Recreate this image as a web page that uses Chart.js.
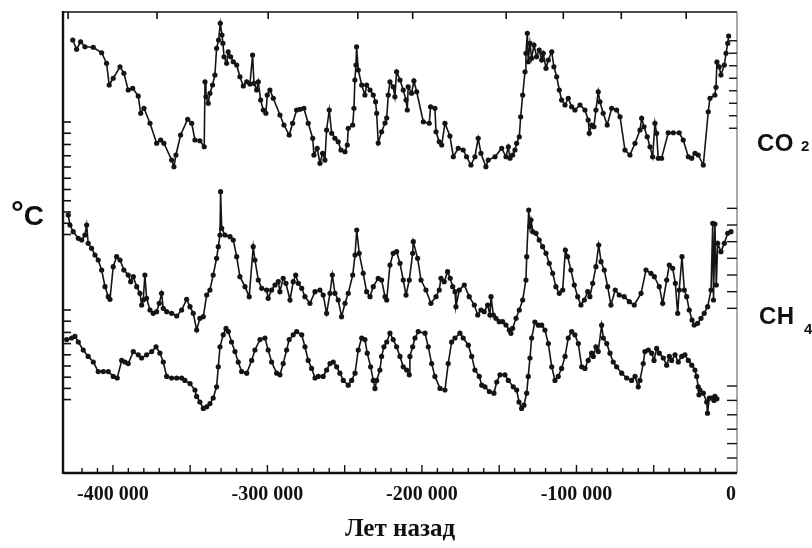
<!DOCTYPE html>
<html>
<head>
<meta charset="utf-8">
<script src="https://cdn.jsdelivr.net/npm/chart.js@4.4.1/dist/chart.umd.min.js"></script>
<style>
  html, body { margin: 0; padding: 0; background: #fff; }
  #wrap { position: relative; width: 812px; height: 548px; }
  #chart { position: absolute; left: 0; top: 0; }
  .lbl { position: absolute; line-height: 1; font-family: "Liberation Sans", Arial, sans-serif; font-weight: bold; color: #111; white-space: nowrap; }
</style>
</head>
<body>
<div id="wrap">
  <canvas id="chart" width="812" height="548"></canvas>
  <div class="lbl" style="left:11px;top:198px;font-size:28px"><span style="font-size:32px;position:relative;top:-2px">°</span>C</div>
  <div class="lbl" style="left:757px;top:131px;font-size:24px;letter-spacing:0.5px">CO</div>
  <div class="lbl" style="left:801px;top:138px;font-size:15px">2</div>
  <div class="lbl" style="left:759px;top:304px;font-size:24px;letter-spacing:0.5px">CH</div>
  <div class="lbl" style="left:804px;top:321px;font-size:15px">4</div>
</div>
<script>
/* ---------- DATA (years before present) ---------- */
const co2Years = [-426000,-423500,-420900,-418100,-412700,-407300,-404100,-402400,-399800,-395400,
  -392900,-390100,-387200,-383600,-382000,-379900,-376000,-371700,-369100,-367000,
  -362000,-360500,-359200,-356200,-351600,-349000,-346900,-343700,-340900,-340400,
  -339800,-338300,-337200,-335500,-334000,-332900,-331600,-330500,-329400,-328800,
  -328100,-326400,-325400,-323800,-322100,-319900,-317800,-315600,-313400,-311300,
  -309600,-308700,-307000,-305900,-304400,-302700,-301000,-300100,-298400,-296200,
  -291900,-289300,-285900,-283700,-281100,-278900,-276400,-273600,-270700,-269900,
  -267800,-266000,-264300,-262800,-261700,-260000,-258400,-256300,-254200,-252400,
  -249800,-248300,-247700,-244800,-244000,-243400,-242700,-242300,-241200,-239000,
  -236900,-235800,-233600,-231500,-230000,-229300,-228300,-226100,-223900,-222800,
  -221800,-220700,-218600,-217500,-216400,-214200,-212100,-210300,-209500,-208900,
  -206700,-205200,-203400,-199100,-195300,-194400,-191600,-190900,-188800,-187200,
  -185100,-181900,-179700,-176500,-173300,-171100,-168300,-165700,-163600,-161800,
  -158600,-157100,-152700,-148400,-145600,-144100,-143000,-141300,-139800,-138700,
  -137000,-136100,-134800,-133300,-132700,-131800,-131200,-130100,-129000,-127500,
  -125800,-124100,-122500,-121500,-119700,-118200,-116000,-114600,-112800,-111100,
  -109600,-107400,-105300,-103100,-101000,-97700,-94500,-92400,-91700,-90200,
  -88700,-87400,-85900,-84800,-82700,-80100,-77200,-74000,-71800,-68600,
  -65400,-62100,-58900,-57800,-56300,-54200,-52400,-50700,-49200,-48100,
  -47100,-44900,-40600,-37300,-33500,-30900,-27600,-25400,-23300,-21200,
  -17900,-14700,-13600,-10400,-9700,-9100,-7600,-6500,-4300,-3200,
  -2100,-1500];
const co2Values = [285.6,278.2,284.2,280.2,279.8,275.4,267,249.6,255,264.2,
  259,245.6,247,240.8,227,231,219,203,205.6,203,
  189.6,184.2,193.6,209.6,222.2,219,205.6,205,200.2,252.2,
  240.2,235,243,249.6,257.6,279,285.6,299,289.6,283,
  272.2,267,276.2,272.2,268.2,265.6,256.2,248.8,252.2,250.4,
  273.6,251,245.6,252.2,237.6,229.6,227,241.6,245.6,239,
  225.6,217.6,209.6,219,229.6,230.2,231,219,207,193.6,
  199,187,195,189.6,213.6,229.6,211,207,204.2,197.6,
  196.2,201.6,215,217.6,231,253.6,265.6,280.2,261.6,249.6,
  241.6,249.6,245.6,241.6,236.2,227,203.2,212.2,219.2,223.2,
  241.6,252.2,248.2,240.2,260.2,253.6,245.6,237.6,229.6,248.2,
  243,253,244.2,220.2,219,232.2,231,212.2,204.2,201.6,
  219,208.8,192.2,199,197.6,192.2,185.6,192.2,207,195,
  184.2,189.6,192.2,199,192.2,200.2,191,193.6,197.6,203,
  208.2,224.2,241.6,260.2,275,291,268.2,283,271,281.6,
  272.2,277.6,269.6,275,263,269.6,276.2,264.2,256.2,245.6,
  237.6,233.6,239,232.2,229.6,233.6,229.6,221.6,211,217.6,
  216.2,229.6,244.2,236.2,227,217.6,231,229.6,224.2,197.6,
  193.6,203,213.6,223,216.2,208.2,200.2,192.2,219,211,
  191,191,211.4,211.4,211.4,205.6,192.2,191,195,193.6,
  185.6,228.2,239,241.6,247.8,268,264.2,257.6,265.6,275,
  283,288.8];

const ch4Years = [-428900,-427800,-425700,-422400,-420200,-418100,-417000,-416000,-413800,-411600,
  -409500,-407300,-405100,-403000,-401900,-399800,-397600,-395400,-392900,-390100,
  -388500,-386800,-384600,-382500,-381400,-380400,-379300,-378200,-376000,-373900,
  -371700,-370000,-368500,-367400,-365200,-362000,-358700,-355500,-352300,-350100,
  -348000,-345800,-343700,-341500,-339300,-337200,-335100,-332900,-331800,-330700,
  -330300,-329600,-327500,-324200,-322100,-319900,-317800,-314500,-311800,-309200,
  -308100,-305900,-303700,-300500,-299500,-297300,-295100,-293000,-291900,-289800,
  -288000,-285400,-283300,-281700,-280000,-277800,-275700,-272500,-269200,-266000,
  -263900,-261700,-259500,-258000,-256300,-254200,-252000,-249800,-247700,-244800,
  -243300,-242200,-240600,-238000,-235800,-233600,-231500,-228300,-226100,-223900,
  -222800,-220700,-218600,-216400,-214200,-212100,-210300,-208200,-206000,-205600,
  -202800,-200600,-197400,-194200,-190900,-188800,-187700,-185600,-183400,-181700,
  -180100,-178600,-178000,-175800,-172600,-169400,-166100,-163900,-161800,-159700,
  -157500,-156000,-155300,-153800,-152100,-150000,-147800,-145600,-143500,-142400,
  -141300,-139100,-137000,-134800,-132700,-132200,-130900,-130100,-129400,-128300,
  -126200,-124100,-121900,-119700,-117600,-115400,-113300,-111100,-108900,-107200,
  -105700,-103600,-101400,-99200,-97100,-94900,-92700,-91300,-89500,-87400,
  -85600,-84100,-82000,-79800,-77700,-74900,-72300,-69100,-65800,-62600,
  -58200,-55000,-51800,-49600,-46400,-44200,-41600,-39900,-37700,-36000,
  -34500,-33500,-31700,-30200,-28700,-27000,-25200,-23800,-21600,-19400,
  -17300,-15100,-12900,-11800,-11300,-10400,-9500,-8600,-6500,-4300,
  -2100,0];
const ch4Values = [655,625,605,585,580,595,625,570,555,535,
  520,490,440,410,402,500,530,520,490,475,
  455,470,440,420,385,400,475,405,370,360,
  365,390,420,375,365,360,352,370,402,380,
  360,310,345,350,415,430,475,525,560,595,
  725,615,595,590,580,530,470,440,410,560,
  520,460,435,430,405,430,445,455,425,465,
  450,400,455,475,450,435,410,390,425,430,
  415,360,420,475,420,400,350,390,420,475,
  535,610,540,480,425,410,440,465,460,410,
  400,505,540,545,510,460,415,460,540,575,
  525,460,430,390,410,430,465,455,485,465,
  440,425,380,430,445,410,385,355,370,365,
  385,355,410,355,345,335,335,325,310,300,
  315,345,370,400,460,530,670,620,640,605,
  600,580,560,540,510,480,440,420,430,550,
  530,490,445,410,385,400,425,410,450,500,
  565,515,490,440,385,430,415,410,395,385,
  420,490,480,470,440,390,460,505,495,450,
  360,430,530,430,410,370,340,325,330,345,
  360,380,430,630,400,628,445,570,545,570,
  600,605];

const tempYears = [-429900,-426700,-424600,-422400,-419200,-416000,-412700,-409500,-406200,-403000,
  -399800,-397200,-394300,-392200,-390100,-386800,-383600,-381400,-378200,-374900,
  -372100,-369600,-367400,-365200,-362000,-358700,-355500,-353400,-350100,-346900,
  -345800,-343700,-341500,-339300,-337200,-335100,-332900,-331800,-330700,-328600,
  -326800,-325300,-323200,-321000,-318900,-316700,-313400,-310200,-308100,-304800,
  -301600,-299500,-297300,-294000,-291900,-289800,-287600,-285900,-283300,-281100,
  -277800,-275700,-273600,-271400,-269200,-267100,-263900,-261700,-259500,-257400,
  -255200,-253100,-250900,-247700,-245500,-243300,-241200,-239000,-236900,-235400,
  -233200,-231500,-230400,-229300,-227200,-226100,-224600,-222800,-220700,-218600,
  -216400,-214200,-212100,-209900,-208200,-207800,-206000,-204500,-202400,-198000,
  -195900,-193700,-191600,-188300,-185100,-183000,-180800,-178600,-175400,-173300,
  -170000,-167800,-165700,-162900,-161300,-159200,-156400,-153400,-151600,-149500,
  -146300,-144100,-140900,-138700,-137200,-135500,-134000,-132200,-131200,-130100,
  -129000,-126900,-124700,-122500,-120400,-118200,-116000,-113900,-111800,-109600,
  -107400,-105300,-103100,-101000,-98800,-96600,-94500,-92400,-90200,-89100,
  -87400,-85900,-83700,-82600,-80400,-78300,-76200,-74000,-70700,-67500,
  -64300,-62100,-60000,-58900,-56800,-55700,-53500,-51300,-49800,-48100,
  -46400,-43800,-41600,-39900,-38400,-36200,-34100,-31900,-29800,-27600,
  -25400,-23300,-22200,-21200,-20700,-20100,-17900,-15700,-15200,-14000,
  -12500,-11000,-10400,-9100];
const tempValues = [0.8,1,1.2,0.5,-0.5,-1.3,-2,-3.2,-3.2,-3.2,
  -3.8,-4,-1.8,-2,-2.2,-0.7,-1.1,-1.5,-1.1,-0.7,
  -0.1,-0.9,-2,-3.8,-4,-4,-4,-4.3,-4.7,-5.5,
  -6.3,-7,-7.8,-7.6,-7.2,-6.5,-5.1,-2.6,-0.1,1.4,
  2.2,1.8,0.5,-0.7,-2,-3.2,-3.4,-1.8,-0.5,0.8,
  1,-0.5,-2,-3.4,-3.6,-2.2,-0.5,0.8,1.4,1.8,
  1.4,-0.1,-1.8,-2.8,-4,-3.8,-3.8,-3,-2.2,-2,
  -2.6,-3.4,-4.3,-4.9,-4.3,-3.4,-0.5,1,0.8,-0.9,
  -2.6,-4.3,-5.3,-4.3,-3,-1.3,-0.1,0.5,1.6,0.8,
  -0.1,-1.3,-2.6,-3,-3.6,-1.3,-0.1,1,1.8,1.6,
  -0.1,-2.2,-3.8,-5.3,-5.5,-2.2,0.5,1,1.6,1,
  0.1,-1.3,-3,-3.8,-4.9,-5.1,-5.7,-5.9,-4.5,-3.6,
  -3.6,-4.3,-5.1,-5.5,-7,-7.8,-7.4,-5.9,-3.8,-1.5,
  1,3,2.6,2.6,2,0.3,-2.6,-4.3,-3.8,-2.8,
  -1.3,1,1.8,1.4,0.3,-2.6,-2.8,-1.8,-0.9,-1.3,
  -0.1,-0.7,2.6,1,0.3,-0.9,-2,-2.6,-3.4,-4,
  -4.3,-3.8,-5.1,-4.3,-2.2,-0.7,-0.5,-0.9,-1.8,-0.3,
  -0.9,-1.5,-2.4,-1.3,-1.8,-1.1,-2,-1.3,-1.1,-1.8,
  -2.4,-3,-3.8,-5.1,-6.1,-5.5,-5.9,-7,-8.4,-6.5,
  -6.5,-6.8,-6.3,-6.6];

/* ---------- AXIS TICKS ---------- */
const xTickValues = [-400000, -300000, -200000, -100000, 0];
const xTickLabels = ["-400 000", "-300 000", "-200 000", "-100 000", "0"];
const topTickYears = [-429000, -371500, -299500, -241500, -206000, -145500, -108500, -71000, -29000];
const leftTicksCO2 = [220, 211, 202, 193, 184, 175, 166, 157, 148, 139, 130];   // ppmv
const leftTicksTemp = [4.5, 3.1, 1.7, 0.3, -1.1, -2.5, -3.9, -5.3, -6.7];      // °C
const rightTicksCO2 = [285, 275, 265, 255, 245, 235, 225, 215];                 // ppmv
const rightTicksCH4 = [675, 625, 575, 525, 475, 425, 375];                      // ppbv
const rightTicksTemp = [-5, -6.8, -8.6, -10.4, -12.2, -14];                     // °C
const bottomTickYears = [];
for (let v = -420000; v <= -10000; v += 10000) bottomTickYears.push(v);

/* ---------- HELPERS ---------- */
function series(xs, ys, axis) {
  return {
    data: xs.map((x, i) => ({ x: x, y: ys[i] })),
    yAxisID: axis,
    borderColor: "#141414",
    borderWidth: 1.6,
    backgroundColor: "#141414",
    pointRadius: 2.6,
    pointBorderWidth: 0,
    pointBackgroundColor: "#141414",
    tension: 0,
    fill: false
  };
}

// frame + inward ticks like the scanned figure
const framePlugin = {
  id: "frame",
  afterDraw(chart) {
    const { ctx, chartArea: a, scales: s } = chart;
    const seg = (x1, y1, x2, y2, w, c) => {
      ctx.beginPath();
      ctx.lineWidth = w;
      ctx.strokeStyle = c || "#111";
      ctx.moveTo(x1, y1);
      ctx.lineTo(x2, y2);
      ctx.stroke();
    };
    ctx.save();
    seg(a.left, a.top, a.right, a.top, 1.6);
    seg(a.right, a.top, a.right, a.bottom, 1, "#555");
    seg(a.left, a.top - 1, a.left, a.bottom + 1, 2.4);
    seg(a.left, a.bottom, a.right, a.bottom, 2.4);

    bottomTickYears.forEach(v => {
      const x = s.x.getPixelForValue(v);
      seg(x, a.bottom, x, a.bottom - (v % 50000 === 0 ? 8 : 5), 1.4);
    });
    topTickYears.forEach(v => {
      const x = s.x.getPixelForValue(v);
      seg(x, a.top, x, a.top + 7, 1.6);
    });
    leftTicksCO2.forEach(v => {
      const y = s.yCO2.getPixelForValue(v);
      seg(a.left, y, a.left + 8, y, 1.6);
    });
    leftTicksTemp.forEach(v => {
      const y = s.yT.getPixelForValue(v);
      seg(a.left, y, a.left + 8, y, 1.6);
    });
    rightTicksCO2.forEach(v => {
      const y = s.yCO2.getPixelForValue(v);
      seg(a.right, y, a.right - 8, y, 1.4);
    });
    rightTicksCH4.forEach(v => {
      const y = s.yCH4.getPixelForValue(v);
      seg(a.right, y, a.right - 10, y, 1.4);
    });
    rightTicksTemp.forEach(v => {
      const y = s.yT.getPixelForValue(v);
      seg(a.right, y, a.right - 10, y, 1.4);
    });
    ctx.restore();
  }
};

/* ---------- CHART ---------- */
new Chart(document.getElementById("chart"), {
  type: "line",
  data: {
    datasets: [
      series(co2Years, co2Values, "yCO2"),
      series(ch4Years, ch4Values, "yCH4"),
      series(tempYears, tempValues, "yT")
    ]
  },
  options: {
    responsive: false,
    animation: false,
    devicePixelRatio: 1,
    layout: { padding: { left: 63, right: 75, top: 12, bottom: 0 } },
    plugins: { legend: { display: false }, tooltip: { enabled: false } },
    scales: {
      x: {
        type: "linear",
        min: -432300,
        max: 3900,
        afterBuildTicks: scale => { scale.ticks = xTickValues.map(v => ({ value: v })); },
        afterFit: scale => { scale.height = 75; },
        grid: { display: false, drawTicks: false },
        border: { display: false },
        ticks: {
          color: "#111",
          padding: 10,
          maxRotation: 0,
          autoSkip: false,
          font: { family: '"Liberation Serif", "Times New Roman", serif', size: 20, weight: "bold" },
          callback: (v, i) => xTickLabels[i]
        },
        title: {
          display: true,
          text: "Лет назад",
          color: "#111",
          padding: { top: 0, bottom: 3 },
          font: { family: '"Liberation Serif", "Times New Roman", serif', size: 25, weight: "bold" }
        }
      },
      // each series keeps its own units; ranges place the three curves in their bands
      yCO2: { display: false, min: -60.8, max: 308 },
      yCH4: { display: false, min: -119, max: 1264 },
      yT: { display: false, min: -15.875, max: 41.75 }
    }
  },
  plugins: [framePlugin]
});
</script>
</body>
</html>
